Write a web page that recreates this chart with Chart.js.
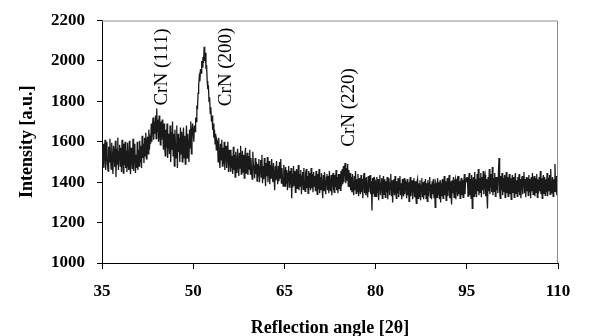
<!DOCTYPE html>
<html>
<head>
<meta charset="utf-8">
<script src="https://cdn.jsdelivr.net/npm/chart.js@4"></script>
<style>
  body { margin: 0; background: #fff; }
  canvas { display: block; }
</style>
</head>
<body>
<canvas id="xrd_chart" width="593" height="336"></canvas>
<script>
// scan from 35 to 110 deg, 0.1 deg step
const angleStart = 35;
const angleStep = 0.1;

const intensity = [
  // 35.0 - 40.9
  1560,1480,1590,1470,1545,1610,1460,1530,1600,1490,
  1455,1575,1500,1615,1520,1465,1595,1505,1440,1580,
  1540,1475,1605,1425,1565,1490,1620,1460,1550,1585,
  1480,1570,1450,1610,1515,1445,1590,1485,1600,1470,
  1555,1450,1595,1495,1460,1605,1475,1440,1570,1530,
  1465,1615,1455,1550,1590,1445,1535,1470,1600,1460,
  // 41.0 - 42.9
  1560,1480,1605,1500,1580,1470,1630,1520,1590,1495,
  1620,1530,1645,1515,1600,1625,1540,1660,1560,1610,
  // 43.0 - 44.9
  1590,1690,1600,1680,1720,1610,1700,1640,1730,1615,
  1765,1650,1710,1600,1730,1640,1585,1700,1610,1710,
  // 45.0 - 47.9
  1650,1560,1690,1580,1530,1660,1570,1690,1520,1640,
  1610,1540,1680,1500,1650,1560,1700,1530,1640,1480,
  1660,1570,1520,1680,1470,1640,1550,1620,1500,1670,
  // 48.0 - 49.9
  1540,1650,1500,1610,1670,1520,1630,1490,1600,1680,
  1520,1640,1560,1500,1660,1570,1700,1540,1650,1690,
  // 50.0 - 53.9
  1640,1600,1680,1650,1720,1700,1780,1760,1840,1880,
  1920,1900,1960,1940,2000,1970,2020,1990,2070,2000,
  2040,1960,1980,1900,1860,1880,1800,1820,1740,1770,
  1700,1730,1660,1690,1620,1660,1590,1640,1560,1610,
  // 54.0 - 55.9
  1600,1500,1620,1520,1470,1590,1510,1610,1480,1570,
  1490,1600,1460,1560,1580,1470,1545,1600,1450,1560,
  // 56.0 - 59.9
  1520,1455,1560,1470,1530,1440,1575,1460,1535,1425,
  1550,1480,1445,1565,1490,1430,1545,1470,1580,1440,
  1510,1555,1450,1535,1420,1525,1570,1445,1500,1545,
  1435,1530,1465,1560,1440,1520,1455,1415,1550,1480,
  // 60.0 - 64.9
  1480,1420,1520,1440,1500,1405,1490,1430,1515,1400,
  1475,1510,1425,1535,1395,1480,1415,1520,1445,1380,
  1495,1430,1525,1400,1470,1505,1390,1485,1420,1515,
  1445,1400,1495,1425,1360,1480,1410,1505,1435,1390,
  1480,1405,1500,1420,1515,1395,1470,1410,1380,1485,
  // 65.0 - 69.9
  1450,1380,1475,1395,1460,1360,1445,1480,1375,1455,
  1390,1470,1320,1440,1375,1480,1385,1455,1350,1445,
  1465,1370,1435,1485,1360,1440,1380,1460,1340,1430,
  1450,1365,1470,1385,1355,1445,1465,1370,1430,1345,
  1455,1375,1445,1360,1470,1370,1440,1350,1450,1380,
  // 70.0 - 73.9
  1430,1355,1455,1370,1340,1440,1365,1465,1345,1425,
  1360,1445,1375,1320,1435,1355,1450,1370,1340,1425,
  1440,1360,1430,1345,1455,1375,1355,1435,1335,1420,
  1445,1365,1350,1435,1375,1460,1360,1425,1345,1440,
  // 74.0 - 75.9
  1370,1440,1360,1455,1380,1465,1390,1480,1400,1475,
  1495,1395,1470,1410,1490,1380,1460,1375,1445,1360,
  // 76.0 - 79.9
  1425,1350,1440,1365,1335,1430,1360,1455,1345,1415,
  1355,1440,1330,1420,1370,1340,1435,1350,1415,1320,
  1410,1445,1345,1420,1335,1425,1360,1325,1430,1350,
  1415,1435,1340,1405,1260,1420,1345,1425,1330,1410,
  // 80.0 - 84.9
  1400,1330,1425,1345,1415,1310,1405,1435,1335,1395,
  1420,1320,1400,1430,1340,1415,1325,1405,1350,1425,
  1315,1400,1420,1335,1395,1440,1330,1410,1300,1390,
  1415,1335,1430,1355,1320,1405,1345,1420,1325,1400,
  1430,1335,1395,1315,1415,1350,1330,1420,1340,1405,
  // 85.0 - 89.9
  1395,1320,1415,1335,1400,1305,1390,1425,1330,1385,
  1410,1315,1395,1420,1325,1405,1340,1295,1400,1415,
  1320,1395,1330,1410,1310,1385,1420,1325,1400,1315,
  1405,1335,1415,1320,1395,1305,1410,1330,1395,1425,
  1325,1390,1315,1405,1340,1415,1320,1395,1275,1400,
  // 90.0 - 94.9
  1390,1325,1420,1340,1400,1315,1410,1300,1395,1330,
  1415,1320,1400,1430,1335,1405,1310,1395,1420,1330,
  1395,1435,1320,1405,1340,1290,1410,1345,1425,1325,
  1400,1415,1315,1395,1410,1330,1430,1340,1405,1320,
  1400,1420,1335,1410,1325,1395,1440,1340,1405,1415,
  // 95.0 - 99.9
  1400,1425,1330,1410,1445,1335,1415,1320,1435,1270,
  1405,1425,1330,1450,1345,1415,1325,1440,1355,1465,
  1335,1420,1350,1445,1325,1425,1360,1455,1340,1420,
  1435,1330,1415,1345,1270,1425,1355,1465,1340,1420,
  1440,1350,1475,1335,1420,1355,1445,1330,1425,1360,
  // 100.0 - 104.9
  1425,1345,1445,1520,1355,1320,1430,1360,1445,1335,
  1420,1350,1435,1325,1415,1450,1345,1425,1330,1410,
  1440,1340,1420,1315,1405,1435,1350,1425,1325,1415,
  1445,1345,1410,1330,1425,1350,1440,1335,1415,1320,
  1405,1430,1340,1420,1450,1345,1415,1325,1425,1355,
  // 105.0 - 110.0
  1420,1335,1435,1350,1415,1320,1425,1355,1445,1340,
  1410,1430,1330,1420,1350,1440,1325,1415,1345,1425,
  1355,1455,1340,1420,1320,1410,1435,1345,1425,1335,
  1415,1350,1445,1330,1420,1355,1435,1340,1465,1360,
  1345,1425,1330,1415,1355,1490,1350,1430,1335,1415,
  1390,
];

const peakLabels = ["CrN (111)", "CrN (200)", "CrN (220)"];
const peakAngles = [44.8, 55.4, 75.6];
const peakLabelIntensity = [1970, 1970, 1770];

const xTicks = [35, 50, 65, 80, 95, 110];
const yTicks = [1000, 1200, 1400, 1600, 1800, 2000, 2200];

const points = intensity.map((v, i) => ({
  x: +(angleStart + i * angleStep).toFixed(1),
  y: v,
}));

const serif = "'Liberation Serif', 'Times New Roman', serif";

const frameAndLabels = {
  id: "frameAndLabels",
  afterDraw(chart) {
    const { ctx, chartArea: a, scales } = chart;
    ctx.save();
    // grey top / right edge of the plot area
    ctx.strokeStyle = "#8c8c8c";
    ctx.lineWidth = 1;
    ctx.beginPath();
    ctx.moveTo(a.left, a.top + 0.5);
    ctx.lineTo(a.right - 0.5, a.top + 0.5);
    ctx.lineTo(a.right - 0.5, a.bottom);
    ctx.stroke();

    ctx.fillStyle = "#000";
    ctx.font = "19px " + serif;
    ctx.textAlign = "center";
    ctx.textBaseline = "middle";
    peakLabels.forEach((txt, i) => {
      const px = scales.x.getPixelForValue(peakAngles[i]);
      const py = scales.y.getPixelForValue(peakLabelIntensity[i]);
      ctx.save();
      ctx.translate(px, py);
      ctx.rotate(-Math.PI / 2);
      ctx.fillText(txt, 0, 0);
      ctx.restore();
    });
    ctx.restore();
  },
};

const ctx = document.getElementById("xrd_chart").getContext("2d");
const myChart = new Chart(ctx, {
  type: "line",
  data: {
    datasets: [
      {
        label: "Intensity",
        data: points,
        borderColor: "#1a1a1a",
        borderWidth: 1.3,
        pointRadius: 0,
        tension: 0,
        fill: false,
      },
    ],
  },
  options: {
    responsive: false,
    animation: false,
    layout: {
      padding: { top: 20, right: 35, bottom: 0, left: 0 },
    },
    plugins: {
      legend: { display: false },
      tooltip: { enabled: false },
    },
    scales: {
      x: {
        type: "linear",
        min: 35,
        max: 110,
        afterBuildTicks: (scale) => {
          scale.ticks = xTicks.map((v) => ({ value: v }));
        },
        afterFit: (scale) => {
          scale.height = 73;
        },
        ticks: {
          color: "#000",
          padding: 12,
          maxRotation: 0,
          callback: (value) => value,
          font: { family: serif, size: 17, weight: "bold" },
        },
        grid: {
          drawOnChartArea: false,
          drawTicks: true,
          tickLength: 6,
          color: "#000",
        },
        border: { color: "#000", width: 1 },
        title: {
          display: true,
          text: "Reflection angle [2θ]",
          color: "#000",
          padding: { top: 0, bottom: 0 },
          font: { family: serif, size: 18, weight: "bold", lineHeight: 0.85 },
        },
      },
      y: {
        min: 1000,
        max: 2200,
        afterBuildTicks: (scale) => {
          scale.ticks = yTicks.map((v) => ({ value: v }));
        },
        afterFit: (scale) => {
          scale.width = 102;
        },
        ticks: {
          color: "#000",
          padding: 12,
          callback: (value) => value,
          font: { family: serif, size: 17, weight: "bold", lineHeight: 1 },
        },
        grid: {
          drawOnChartArea: false,
          drawTicks: true,
          tickLength: 5,
          color: "#000",
        },
        border: { color: "#000", width: 1 },
        title: {
          display: true,
          text: "Intensity [a.u.]",
          color: "#000",
          padding: { top: 17, bottom: 0 },
          font: { family: serif, size: 18, weight: "bold" },
        },
      },
    },
  },
  plugins: [frameAndLabels],
});
</script>
</body>
</html>
